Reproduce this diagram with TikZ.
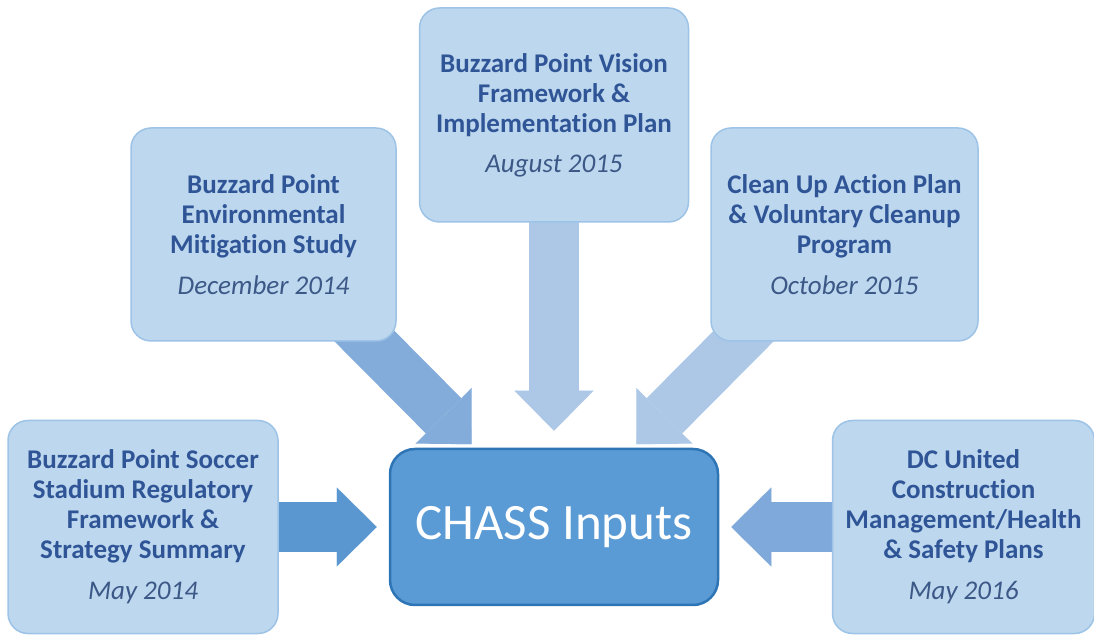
\documentclass[tikz,border=0pt]{standalone}
\usepackage{fontspec}
\setmainfont{Carlito}[Ligatures=NoCommon]
\usetikzlibrary{arrows.meta}
\usetikzlibrary{backgrounds}

\definecolor{boxfill}{HTML}{BDD7EE}
\definecolor{boxline}{HTML}{9DC3E6}
\definecolor{boxtext}{HTML}{2F5597}
\definecolor{datetext}{HTML}{3B5887}
\definecolor{hubfill}{HTML}{5B9BD5}
\definecolor{hubline}{HTML}{2E75B6}
\definecolor{feeddark}{HTML}{5A97D1}
\definecolor{feedmid}{HTML}{84ACDA}
\definecolor{feedsoft}{HTML}{7FA9DA}
\definecolor{feedpale}{HTML}{ADC7E6}

\newcommand{\issued}[1]{{\mdseries\itshape\color{datetext}#1}}

\tikzset{input/.style = {draw=boxline, fill=boxfill, line width=1.5pt,
                         rounded corners=20pt, minimum width=267pt,
                         minimum height=213pt, inner sep=0pt, align=center,
                         text=boxtext, font=\fontsize{27}{30}\selectfont\bfseries},
         feed/.style = {line width=50pt,
                        -{Triangle[length=40pt, width=79pt, line width=0.1pt]}}}

\begin{document}
\begin{tikzpicture}[x=1pt, y=1pt]
    \useasboundingbox (0, 0) rectangle (1094, 634);
    % the five inputs
    \node [input, minimum width=270pt] (soccer) at (143, 107)
        {Buzzard Point Soccer\\ Stadium Regulatory\\ Framework \&\\ Strategy Summary\\[11pt] \issued{May 2014}};
    \node [input, minimum width=265pt] (mitigation) at (263.5, 399.5)
        {Buzzard Point\\ Environmental\\ Mitigation Study\\[11pt] \issued{December 2014}};
    \node [input, minimum width=269pt, minimum height=214pt] (vision) at (554, 519)
        {Buzzard Point Vision\\ Framework \&\\ Implementation Plan\\[10pt] \issued{August 2015}};
    \node [input] (cleanup) at (844.5, 399.5)
        {Clean Up Action Plan\\ \& Voluntary Cleanup\\ Program\\[11pt] \issued{October 2015}};
    \node [input, minimum width=262pt] (united) at (963.5, 107)
        {DC United\\ Construction\\ Management/Health\\ \& Safety Plans\\[11pt] \issued{May 2016}};
    % hub
    \node [draw=hubline, fill=hubfill, line width=2.5pt, rounded corners=25pt,
           minimum width=328pt, minimum height=156pt, text=white,
           font=\fontsize{51}{60}\selectfont] (hub) at (554, 107) {CHASS Inputs};
    % block arrows behind the boxes
    \begin{scope}[on background layer]
      \draw [feed, feeddark, shorten >=12pt] (soccer.center) -- (hub);
      \draw [feed, feedmid, shorten >=5pt] (mitigation.center) -- (hub);
      \draw [feed, feedpale, shorten >=17pt] (vision.center) -- (hub);
      \draw [feed, feedpale, shorten >=5pt] (cleanup.center) -- (hub);
      \draw [feed, feedsoft, shorten >=12pt] (united.center) -- (hub);
    \end{scope}
\end{tikzpicture}
\end{document}
